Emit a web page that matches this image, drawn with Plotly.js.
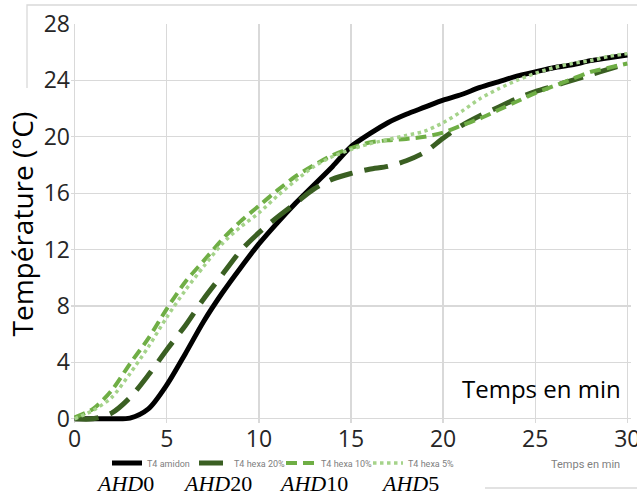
<!DOCTYPE html>
<html>
<head>
<meta charset="utf-8">
<script src="https://cdn.plot.ly/plotly-3.0.1.min.js"></script>
<style>html,body{margin:0;padding:0;background:#fff;}#chart{width:637px;height:497px;}</style>
</head>
<body>
<div id="chart"></div>
<script>
// Time in minutes
const time = [0,1,2,3,4,5,6,7,8,9,10,11,12,13,14,15,16,17,18,19,20,21,22,23,24,25,26,27,28,29,30];
// Temperature (°C) per series
const amidon = [0,0,0,0.05,0.7,2.4,4.6,6.9,8.9,10.7,12.4,13.9,15.3,16.6,17.9,19.3,20.2,21.0,21.6,22.1,22.6,23.0,23.5,23.9,24.3,24.6,24.9,25.1,25.4,25.6,25.8];
const hexa20 = [0,0,0.4,1.5,3.1,4.9,6.6,8.5,10.2,11.9,13.2,14.3,15.3,16.3,17.0,17.4,17.7,17.9,18.3,18.9,19.9,20.8,21.5,22.1,22.7,23.2,23.6,24.0,24.4,24.8,25.2];
const hexa10 = [0.1,0.7,2.0,3.9,5.7,7.8,9.7,11.2,12.7,14.0,15.1,16.2,17.2,18.0,18.7,19.2,19.6,19.75,19.85,20.0,20.3,20.8,21.3,21.9,22.5,23.1,23.6,24.1,24.6,24.9,25.2];
const hexa5 = [0,0.6,1.5,3.2,5.1,7.2,9.1,10.8,12.4,13.6,14.6,15.8,16.9,17.9,18.6,19.1,19.5,19.8,20.1,20.4,21.0,21.8,22.7,23.4,24.0,24.5,24.9,25.2,25.4,25.7,25.9];
const seriesNames = ["T4 amidon","T4 hexa 20%","T4 hexa 10%","T4 hexa 5%"];
const ahdLabels = ["<i>AHD</i>0","<i>AHD</i>20","<i>AHD</i>10","<i>AHD</i>5"];
const xTicks = [0,5,10,15,20,25,30];
const yTicks = [0,4,8,12,16,20,24,28];

const L = 71, R = 6, T = 24, B = 74, W = 637 - L - R, H = 497 - T - B;
const px = v => (v - L) / W;
const py = v => (T + H - v) / H;

const traces = [
  {x: time, y: amidon, name: seriesNames[0], mode: 'lines',
   line: {color: '#000000', width: 5, shape: 'spline', smoothing: 0.8}},
  {x: time, y: hexa20, name: seriesNames[1], mode: 'lines',
   line: {color: '#3a5f22', width: 5, dash: '24px,12px', shape: 'spline', smoothing: 0.8}},
  {x: time, y: hexa10, name: seriesNames[2], mode: 'lines',
   line: {color: '#6fae45', width: 4, dash: '11px,6px', shape: 'spline', smoothing: 0.8}},
  {x: time, y: hexa5, name: seriesNames[3], mode: 'lines',
   line: {color: '#a5d38a', width: 3.5, dash: 'dot', shape: 'spline', smoothing: 0.8}}
];

const ahdX = [95, 182, 278, 380];
const annotations = [
  {text: 'Température (°C)', textangle: -90, xref: 'paper', yref: 'paper',
   x: px(22), y: py(224.5), xanchor: 'center', yanchor: 'middle', showarrow: false,
   font: {family: 'Open Sans', size: 28, color: '#000'}},
  {text: 'Temps en min', xref: 'paper', yref: 'paper', x: px(460), y: py(388),
   xanchor: 'left', yanchor: 'middle', showarrow: false,
   font: {family: 'Open Sans', size: 24, color: '#000'}},
  {text: 'Temps en min', xref: 'paper', yref: 'paper', x: px(585), y: py(465),
   xanchor: 'center', yanchor: 'middle', showarrow: false,
   font: {family: 'Roboto', size: 11, color: '#808080'}}
];
ahdLabels.forEach((t, i) => annotations.push({
  text: t, xref: 'paper', yref: 'paper', x: px(ahdX[i]), y: py(483),
  xanchor: 'left', yanchor: 'middle', showarrow: false, borderpad: 0,
  font: {family: 'Liberation Serif', size: 22, color: '#000'}
}));

const layout = {
  width: 637, height: 497,
  margin: {l: L, r: R, t: T, b: B, pad: 0},
  paper_bgcolor: '#fff', plot_bgcolor: '#fff',
  showlegend: true,
  legend: {orientation: 'h', x: px(107), y: py(463), xanchor: 'left', yanchor: 'middle',
    font: {family: 'Roboto', size: 9, color: '#808080'}, bgcolor: 'rgba(0,0,0,0)',
    entrywidth: 42, entrywidthmode: 'pixels', itemwidth: 30, tracegroupgap: 0},
  xaxis: {range: [-0.2, 30.2], tickvals: xTicks, ticktext: xTicks.map(String),
    showgrid: true, gridcolor: '#d9d9d9', gridwidth: 1.3, zeroline: false, showline: false,
    ticklabeloverflow: 'allow',
    ticks: '', tickfont: {family: 'Open Sans', size: 23, color: '#262626'}, fixedrange: true},
  yaxis: {range: [-0.3, 28], tickvals: yTicks, ticktext: yTicks.map(String),
    showgrid: true, gridcolor: '#d9d9d9', gridwidth: 1.3, zeroline: false, showline: false,
    ticklabeloverflow: 'allow',
    ticks: '', tickfont: {family: 'Open Sans', size: 23, color: '#262626'}, fixedrange: true},
  shapes: [
    {type: 'path', xref: 'paper', yref: 'paper',
     path: `M ${px(27)} ${py(88)} L ${px(27)} ${py(5)} L ${px(637)} ${py(5)}`,
     line: {color: '#d9d9d9', width: 1.3}},
    {type: 'line', xref: 'paper', yref: 'paper', x0: px(485), x1: px(637), y0: py(488), y1: py(488),
     line: {color: '#d9d9d9', width: 1.3}},
    {type: 'rect', xref: 'paper', yref: 'paper', layer: 'between',
     x0: px(446), x1: px(637), y0: py(413), y1: py(358),
     fillcolor: '#ffffff', line: {width: 0}}
  ],
  annotations: annotations
};

Plotly.newPlot('chart', traces, layout, {displayModeBar: false, staticPlot: true});
</script>
</body>
</html>
